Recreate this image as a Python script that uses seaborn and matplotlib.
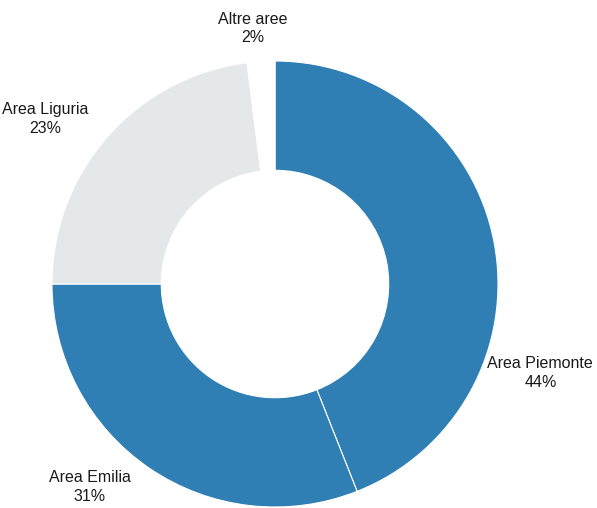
import matplotlib
matplotlib.use("Agg")
import matplotlib.pyplot as plt
import seaborn as sns

# Dati del grafico
aree = ["Area Piemonte", "Area Emilia", "Area Liguria", "Altre aree"]
quote = [44, 31, 23, 2]
colori = ["#2f7eb4", "#2f7eb4", "#e4e8e8", "#ffffff"]

sns.set_style("white")
plt.rcParams['font.family'] = ['Liberation Sans Narrow', 'Liberation Sans', 'DejaVu Sans']

fig = plt.figure(figsize=(5.97, 5.08), dpi=100)
ax = fig.add_axes([0, 0, 1, 1])

ax.pie(quote, colors=colori, startangle=90, counterclock=False, radius=1,
       wedgeprops=dict(width=0.49, edgecolor="white", linewidth=0.8))

# Posizione delle etichette
pos_etichette = {
    "Area Piemonte": (1.19, -0.40),
    "Area Emilia": (-0.83, -0.91),
    "Area Liguria": (-1.03, 0.74),
    "Altre aree": (-0.10, 1.145),
}
for area, q in zip(aree, quote):
    x, y = pos_etichette[area]
    ax.text(x, y, f"{area}\n{q}%", ha="center", va="center", fontsize=11.5,
            color="#1a1a1a", linespacing=1.3)

ax.set_xlim(-275 / 223, (597 - 275) / 223)
ax.set_ylim(-(508 - 284) / 223, 284 / 223)
ax.set_aspect("auto")
ax.axis("off")

fig.savefig("out.png", dpi=100, facecolor="white")
